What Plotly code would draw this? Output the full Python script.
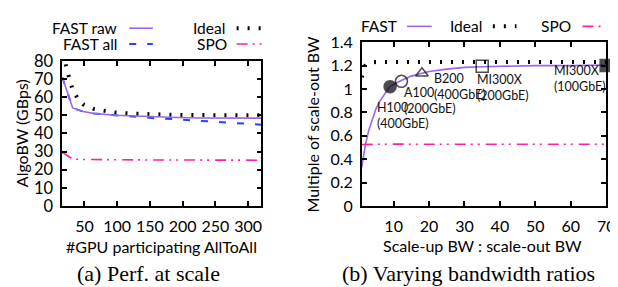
import plotly.graph_objects as go

# ---------------- data: (a) Perf. at scale ----------------
gpus = [16, 24, 32, 48, 64, 96, 128, 160, 192, 224, 256, 288, 320]
fast_raw = [71, 62.5, 54, 52, 51, 50, 49.5, 49, 48.7, 48.5, 48.5, 48.4, 48.4]
fast_all = [71, 62.5, 54, 52, 51, 50, 49, 48.3, 47.7, 47, 46.3, 45.6, 44.8]
spo_a = [29.6, 27.6, 25.8, 25.6, 25.5, 25.4, 25.4, 25.3, 25.3, 25.3, 25.3, 25.3, 25.2]
ideal_gpus = [16, 20, 24, 28, 32, 40, 48, 64, 80, 96, 128, 160, 192, 256, 320]
ideal_a = [90, 80, 74, 68.5, 64, 59, 56, 53.5, 52.3, 51.5, 50.8, 50.4, 50.2, 50, 50]

# ---------------- data: (b) Varying bandwidth ratios ----------------
ratio = [1, 1.5, 2, 3, 4, 5, 6, 7, 8, 9, 10, 12, 15, 18, 20, 25, 30, 35, 40, 50, 60, 70]
fast_b = [0.33, 0.43, 0.52, 0.65, 0.75, 0.83, 0.89, 0.94, 0.98, 1.02, 1.04, 1.07,
          1.11, 1.135, 1.15, 1.17, 1.185, 1.19, 1.195, 1.2, 1.2, 1.205]
ideal_ratio = [1, 2, 3, 5, 10, 20, 40, 70]
ideal_b = [1.1, 1.2, 1.225, 1.23, 1.23, 1.23, 1.23, 1.23]
spo_ratio = [1, 2, 5, 10, 20, 40, 70]
spo_b = [0.525, 0.527, 0.527, 0.528, 0.527, 0.527, 0.527]

hw_names = ["H100", "A100", "B200", "MI300X", "MI300X"]
hw_nic = ["400GbE", "200GbE", "400GbE", "200GbE", "100GbE"]
hw_ratio = [9, 12.2, 18, 35, 70]
hw_mult = [1.02, 1.065, 1.135, 1.195, 1.2]

# ---------------- styles ----------------
PURPLE = "#9966ee"
BLUE = "#2244ff"
PINK = "#ff2299"
BLACK = "#000000"
IDEAL_DASH = "2px,9px"
ALL_DASH = "7px,11px"
SPO_DASH = "11px,5px,2px,5px,2px,6px"
FONT = "Lato"

W, H = 618, 287
def px(x):
    return x / W
def py(y):
    return 1 - y / H

fig = go.Figure()

# (a)
fig.add_trace(go.Scatter(x=ideal_gpus, y=ideal_a, mode="lines", xaxis="x", yaxis="y",
                         line=dict(color=BLACK, width=4, dash=IDEAL_DASH)))
fig.add_trace(go.Scatter(x=gpus, y=fast_all, mode="lines", xaxis="x", yaxis="y",
                         line=dict(color=BLUE, width=2, dash=ALL_DASH)))
fig.add_trace(go.Scatter(x=gpus, y=fast_raw, mode="lines", xaxis="x", yaxis="y",
                         line=dict(color=PURPLE, width=1.6)))
fig.add_trace(go.Scatter(x=gpus, y=spo_a, mode="lines", xaxis="x", yaxis="y",
                         line=dict(color=PINK, width=1.6, dash=SPO_DASH)))

# (b)
fig.add_trace(go.Scatter(x=ideal_ratio, y=ideal_b, mode="lines", xaxis="x2", yaxis="y2",
                         line=dict(color=BLACK, width=4, dash=IDEAL_DASH)))
fig.add_trace(go.Scatter(x=ratio, y=fast_b, mode="lines", xaxis="x2", yaxis="y2",
                         line=dict(color=PURPLE, width=1.6)))
fig.add_trace(go.Scatter(x=spo_ratio, y=spo_b, mode="lines", xaxis="x2", yaxis="y2",
                         line=dict(color=PINK, width=1.6, dash=SPO_DASH)))
symbols = ["circle", "circle-open", "triangle-up-open", "square-open", "square"]
fig.add_trace(go.Scatter(x=hw_ratio, y=hw_mult, mode="markers", xaxis="x2", yaxis="y2",
                         cliponaxis=False,
                         marker=dict(symbol=symbols, size=[12, 12, 11, 12, 12], color=BLACK,
                                     line=dict(color=BLACK, width=1.5))))

# hardware labels (text positions in data coordinates)
label_pos = [(4.6, 0.774), (12.4, 0.90), (20.7, 1.024), (33.0, 1.01), (54.6, 1.09)]
for (lx, ly), n, nic in zip(label_pos, hw_names, hw_nic):
    fig.add_annotation(x=lx, y=ly, xref="x2", yref="y2", text=f"{n}<br>({nic})",
                       showarrow=False, xanchor="left", yanchor="middle", align="left",
                       font=dict(family=FONT, size=12.5, color="#111"))

def axis_common(size):
    return dict(showline=True, linecolor=BLACK, linewidth=1.5, mirror="ticks",
                ticks="inside", ticklen=5, tickwidth=1.5, tickcolor=BLACK,
                showgrid=False, zeroline=False,
                tickfont=dict(family=FONT, size=size, color=BLACK))

fig.update_layout(
    width=W, height=H, margin=dict(l=0, r=0, t=0, b=0),
    paper_bgcolor="white", plot_bgcolor="white", showlegend=False,
    xaxis=dict(domain=[px(55), px(257)], range=[16, 320], anchor="y",
               tickvals=[50, 100, 150, 200, 250, 300], ticklabelstandoff=5, **axis_common(16)),
    yaxis=dict(domain=[py(202), py(46)], range=[0, 80], anchor="x",
               tickvals=[0, 10, 20, 30, 40, 50, 60, 70, 80], ticklabelstandoff=4, **axis_common(16.5)),
    xaxis2=dict(domain=[px(359), px(607)], range=[1, 70], anchor="y2",
                tickvals=[10, 20, 30, 40, 50, 60, 70], ticklabelstandoff=5, **axis_common(16)),
    yaxis2=dict(domain=[py(202), py(26)], range=[0, 1.4], anchor="x2",
                tickvals=[0, 0.2, 0.4, 0.6, 0.8, 1, 1.2, 1.4], ticklabelstandoff=4, **axis_common(16)),
)

def text(x, y, s, size=14, anchor="center", family=FONT, angle=0):
    fig.add_annotation(x=px(x), y=py(y), xref="paper", yref="paper", text=s,
                       showarrow=False, xanchor=anchor, yanchor="middle", textangle=angle,
                       font=dict(family=family, size=size, color=BLACK))

# axis titles
text(156, 246, "#GPU participating AllToAll", 16)
text(482, 245, "Scale-up BW : scale-out BW", 16)
text(14, 124, "AlgoBW (GBps)", 16, angle=-90)
text(309, 114, "Multiple of scale-out BW", 16, angle=-90)

# captions
text(143, 275, "(a) Perf. at scale", 22, family="Liberation Serif")
text(467, 275, "(b) Varying bandwidth ratios", 22, family="Liberation Serif")

# legends (gnuplot style: label then sample)
def key(xr, y, label, x0, x1, color, width, dash, size=16):
    text(xr, y, label, size, anchor="right")
    fig.add_shape(type="line", xref="paper", yref="paper", x0=px(x0), x1=px(x1),
                  y0=py(y), y1=py(y), line=dict(color=color, width=width, dash=dash))

key(113, 11, "FAST raw", 123, 147, PURPLE, 1.6, "solid", 15.5)
key(222, 11, "Ideal", 232, 258, BLACK, 4, IDEAL_DASH, 15.5)
key(113, 28, "FAST all", 123, 147, BLUE, 2, ALL_DASH, 15.5)
key(224, 28, "SPO", 232, 258, PINK, 1.6, SPO_DASH, 15.5)

key(397, 9, "FAST", 405, 430, PURPLE, 1.6, "solid", 15.5)
key(483, 9, "Ideal", 492, 516, BLACK, 4, IDEAL_DASH, 15.5)
key(573, 9, "SPO", 583, 605, PINK, 1.6, SPO_DASH, 15.5)

fig.write_html("out.html")
